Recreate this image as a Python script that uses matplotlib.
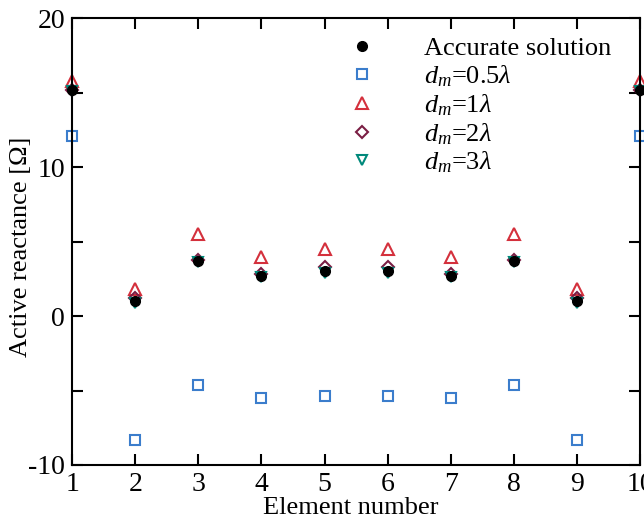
import matplotlib
matplotlib.use("Agg")
import matplotlib.pyplot as plt
from matplotlib.ticker import MultipleLocator

plt.rcParams['font.family'] = ['Liberation Serif', 'DejaVu Serif']
plt.rcParams['mathtext.fontset'] = 'custom'
plt.rcParams['mathtext.rm'] = 'Liberation Serif'
plt.rcParams['mathtext.it'] = 'Liberation Serif:italic'
plt.rcParams['axes.unicode_minus'] = False

elements = [1, 2, 3, 4, 5, 6, 7, 8, 9, 10]
accurate = [15.2, 1.0, 3.7, 2.7, 3.0, 3.0, 2.7, 3.7, 1.0, 15.2]
dm05 = [12.1, -8.3, -4.6, -5.5, -5.4, -5.4, -5.5, -4.6, -8.3, 12.1]
dm1 = [15.8, 1.8, 5.5, 4.0, 4.5, 4.5, 4.0, 5.5, 1.8, 15.8]
dm2 = [15.2, 1.2, 3.8, 2.8, 3.3, 3.3, 2.8, 3.8, 1.2, 15.2]
dm3 = [15.1, 0.9, 3.6, 2.6, 2.9, 2.9, 2.6, 3.6, 0.9, 15.1]

fig = plt.figure(figsize=(6.44, 5.17), dpi=100)
ax = fig.add_axes([0.112, 0.1006, 0.882, 0.864])

ax.plot(elements, accurate, 'o', color='black', ms=7, label='Accurate solution', zorder=5, clip_on=False)
ax.plot(elements, dm05, 's', mfc='none', mec='#3b7dcc', mew=1.5, ms=7, label=r'$d_m$=0.5$\lambda$', clip_on=False)
ax.plot(elements, dm1, '^', mfc='none', mec='#d4303c', mew=1.5, ms=8, label=r'$d_m$=1$\lambda$', clip_on=False)
ax.plot(elements, dm2, 'D', mfc='none', mec='#7a1e44', mew=1.5, ms=6.5, label=r'$d_m$=2$\lambda$', clip_on=False)
ax.plot(elements, dm3, 'v', mfc='none', mec='#00897b', mew=1.5, ms=7, label=r'$d_m$=3$\lambda$', clip_on=False)

ax.set_xlim(1, 10)
ax.set_ylim(-10, 20)
ax.xaxis.set_major_locator(MultipleLocator(1))
ax.yaxis.set_major_locator(MultipleLocator(10))
ax.yaxis.set_minor_locator(MultipleLocator(5))
ax.tick_params(which='both', direction='in', top=True, right=True, length=8, width=1.5,
               labelsize=20, pad=5)
for s in ax.spines.values():
    s.set_linewidth(1.5)

ax.set_xlabel('Element number', fontsize=19)
ax.xaxis.set_label_coords(0.49, -0.071)
ax.xaxis.label.set_va('top')
ax.set_ylabel('Active reactance [Ω]', fontsize=19)
ax.yaxis.set_label_coords(-0.07, 0.488)

ax.legend(loc='upper right', bbox_to_anchor=(0.982, 1.0), frameon=False, fontsize=19,
          handletextpad=1.6, labelspacing=0.12, borderaxespad=0.3, handlelength=1.5)

fig.savefig('out.png', dpi=100)
